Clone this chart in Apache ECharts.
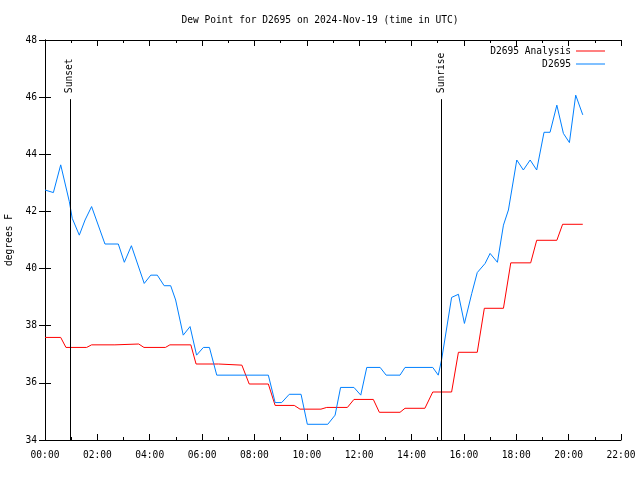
<!DOCTYPE html>
<html>
<head>
<meta charset="utf-8">
<script src="https://cdn.jsdelivr.net/npm/echarts@6/dist/echarts.min.js"></script>
<style>html,body{margin:0;padding:0;background:#fff}#c{width:640px;height:480px}</style>
</head>
<body>
<div id="c"></div>
<script>
var titleText = 'Dew Point for D2695 on 2024-Nov-19 (time in UTC)';
var yAxisName = 'degrees F';
var seriesNames = ['D2695 Analysis', 'D2695'];
var xTickHours = [0, 2, 4, 6, 8, 10, 12, 14, 16, 18, 20, 22];
var yTicks = [34, 36, 38, 40, 42, 44, 46, 48];

var analysisHours = [0, 0.6, 0.8, 1.59, 1.78, 2.67, 2.71, 3.58, 3.78, 4.6, 4.77, 5.57, 5.77, 6.63, 6.68, 7.52, 7.8, 8.53, 8.79, 9.52, 9.74, 10.54, 10.76, 11.55, 11.8, 12.54, 12.77, 13.56, 13.75, 14.51, 14.81, 15.53, 15.79, 16.51, 16.78, 17.51, 17.79, 18.55, 18.78, 19.55, 19.77, 20.54];
var analysisValues = [37.59, 37.59, 37.24, 37.24, 37.33, 37.33, 37.36, 37.36, 37.24, 37.24, 37.33, 37.33, 36.66, 36.66, 36.62, 36.62, 35.96, 35.96, 35.21, 35.21, 35.08, 35.08, 35.14, 35.14, 35.42, 35.42, 34.97, 34.97, 35.11, 35.11, 35.68, 35.68, 37.07, 37.07, 38.61, 38.61, 40.2, 40.2, 40.99, 40.99, 41.55, 41.55];

var obsHours = [0, 0.32, 0.6, 0.93, 1.04, 1.31, 1.53, 1.78, 2.29, 2.8, 3.03, 3.3, 3.79, 4.04, 4.29, 4.55, 4.8, 4.99, 5.28, 5.54, 5.79, 6.05, 6.28, 6.56, 8.53, 8.79, 9.04, 9.33, 9.78, 10.02, 10.8, 11.08, 11.29, 11.8, 12.06, 12.29, 12.8, 13.03, 13.56, 13.75, 14.81, 15.02, 15.15, 15.53, 15.79, 16.02, 16.3, 16.51, 16.81, 17.0, 17.28, 17.51, 17.7, 18.02, 18.27, 18.53, 18.78, 19.06, 19.29, 19.55, 19.8, 20.03, 20.27, 20.54];
var obsValues = [42.75, 42.66, 43.63, 42.34, 41.76, 41.17, 41.7, 42.17, 40.86, 40.86, 40.22, 40.8, 39.48, 39.77, 39.77, 39.4, 39.4, 38.9, 37.67, 37.97, 36.97, 37.24, 37.24, 36.27, 36.27, 35.31, 35.31, 35.6, 35.6, 34.55, 34.55, 34.87, 35.84, 35.84, 35.57, 36.54, 36.54, 36.27, 36.27, 36.54, 36.54, 36.27, 36.82, 38.99, 39.1, 38.08, 39.13, 39.86, 40.18, 40.53, 40.22, 41.52, 42.05, 43.8, 43.45, 43.8, 43.45, 44.77, 44.77, 45.72, 44.73, 44.41, 46.07, 45.38];

var eventNames = ['Sunset', 'Sunrise'];
var eventHours = [0.95, 15.14];
var eventTop = 45.93;

var FONT = 'DejaVu Sans Mono';
var FS = 9.6;

function zip(a, b) { return a.map(function (v, i) { return [v, b[i]]; }); }
function pad(h) { return (h < 10 ? '0' : '') + h + ':00'; }

var chart = echarts.init(document.getElementById('c'), null, { renderer: 'canvas' });

var axisCommonX = {
  type: 'value', min: xTickHours[0], max: xTickHours[xTickHours.length - 1], interval: 2,
  axisLine: { show: true, lineStyle: { color: '#000', width: 1 } },
  axisTick: { show: true, inside: true, length: 6, lineStyle: { color: '#000' } },
  minorTick: { show: true, splitNumber: 2, length: 3, lineStyle: { color: '#000' } },
  splitLine: { show: false }
};
var axisCommonY = {
  type: 'value', min: yTicks[0], max: yTicks[yTicks.length - 1], interval: 2,
  axisLine: { show: true, lineStyle: { color: '#000', width: 1 } },
  axisTick: { show: true, inside: true, length: 6, lineStyle: { color: '#000' } },
  splitLine: { show: false }
};

var markLineData = eventHours.map(function (h) {
  return [{ coord: [h, yTicks[0]] }, { coord: [h, eventTop] }];
});

chart.setOption({
  animation: false,
  backgroundColor: '#fff',
  textStyle: { fontFamily: FONT },
  title: {
    text: titleText, left: 'center', top: 10,
    textStyle: { fontFamily: FONT, fontSize: FS, fontWeight: 'normal', color: '#000' }
  },
  legend: [
    { data: [seriesNames[0]], right: 30, top: 41, align: 'right', icon: 'rect', itemWidth: 29, itemHeight: 1,
      textStyle: { fontFamily: FONT, fontSize: FS, color: '#000' } },
    { data: [seriesNames[1]], right: 30, top: 54, align: 'right', icon: 'rect', itemWidth: 29, itemHeight: 1,
      textStyle: { fontFamily: FONT, fontSize: FS, color: '#000' } }
  ],
  grid: { left: 45, right: 19, top: 40, bottom: 40, containLabel: false, outerBoundsMode: 'none' },
  xAxis: [
    Object.assign({}, axisCommonX, {
      position: 'bottom',
      axisLabel: { show: true, margin: 10, color: '#000', fontFamily: FONT, fontSize: FS, formatter: function (v) { return pad(v); } }
    }),
    Object.assign({}, axisCommonX, { position: 'top', axisLabel: { show: false } })
  ],
  yAxis: [
    Object.assign({}, axisCommonY, {
      position: 'left',
      name: yAxisName, nameLocation: 'middle', nameGap: 30, nameRotate: 90,
      nameTextStyle: { fontFamily: FONT, fontSize: FS, color: '#000' },
      axisLabel: { show: true, margin: 8, color: '#000', fontFamily: FONT, fontSize: FS }
    }),
    Object.assign({}, axisCommonY, { position: 'right', axisLabel: { show: false } })
  ],
  series: [
    {
      name: seriesNames[0], type: 'line', data: zip(analysisHours, analysisValues),
      showSymbol: false, symbol: 'none', itemStyle: { color: '#ff0000' },
      lineStyle: { color: '#ff0000', width: 1 }, z: 3,
      markLine: {
        silent: true, symbol: ['none', 'none'], label: { show: false },
        lineStyle: { color: '#000', width: 1, type: 'solid' },
        data: markLineData
      }
    },
    {
      name: seriesNames[1], type: 'line', data: zip(obsHours, obsValues),
      showSymbol: false, symbol: 'none', itemStyle: { color: '#0080ff' },
      lineStyle: { color: '#0080ff', width: 1 }, z: 4
    }
  ]
});

var texts = eventHours.map(function (h, i) {
  var p = chart.convertToPixel({ gridIndex: 0 }, [h, eventTop]);
  return {
    type: 'text', x: p[0], y: p[1] - 6, rotation: Math.PI / 2,
    style: { text: eventNames[i], fontFamily: FONT, fontSize: FS, fill: '#000', textAlign: 'left', textVerticalAlign: 'middle' }
  };
});
chart.setOption({ graphic: texts });
</script>
</body>
</html>
